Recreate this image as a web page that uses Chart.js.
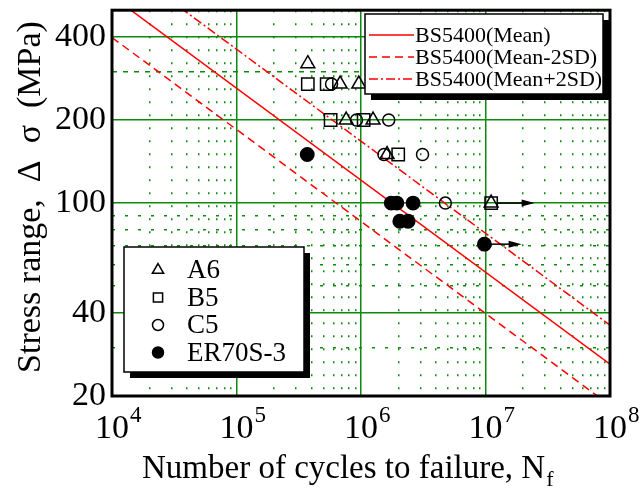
<!DOCTYPE html>
<html>
<head>
<meta charset="utf-8">
<script src="https://cdn.jsdelivr.net/npm/chart.js@4.4.0/dist/chart.umd.min.js"></script>
<style>
html,body{margin:0;padding:0;background:#fff;}
#wrap{width:643px;height:493px;position:relative;}
</style>
</head>
<body>
<div id="wrap"><canvas id="c" width="643" height="493"></canvas></div>
<script>
// ---- data ----
const a6N = [3.74e5, 6.8e5, 9.6e5, 7.6e5, 1.25e6, 1.62e6, 1.11e7];
const a6S = [320, 270, 270, 200, 200, 150, 100];
const b5N = [3.74e5, 5.3e5, 5.7e5, 1.05e6, 1.99e6, 1.11e7];
const b5S = [270, 270, 200, 200, 150, 100];
const c5N = [5.8e5, 9.2e5, 1.67e6, 1.53e6, 3.12e6, 4.76e6];
const c5S = [270, 200, 200, 150, 150, 100];
const erN = [3.7e5, 1.75e6, 1.94e6, 2.62e6, 2.05e6, 2.39e6, 9.8e6];
const erS = [150, 100, 100, 100, 86, 86, 71];
// run-out arrows (start N, arrow tip N, stress)
const runFromN = [1.11e7, 9.8e6];
const runToN = [2.48e7, 1.95e7];
const runS = [100, 71];
// BS5400 curves (end points)
const meanN = [1e4, 1e8];
const meanS = [562, 26.1];
const minusN = [1e4, 1e8];
const minusS = [398, 18.5];
const plusN = [1e4, 1e8];
const plusS = [778, 36.1];
// ticks
const xExponents = [4, 5, 6, 7, 8];
const yTickLabels = [20, 40, 100, 200, 400];
const yMinorTicks = [30, 50, 60, 70, 80, 90, 300];

const seriesNames = ['A6', 'B5', 'C5', 'ER70S-3'];
const lineNames = ['BS5400(Mean)', 'BS5400(Mean-2SD)', 'BS5400(Mean+2SD)'];

const pts = (xs, ys) => xs.map((x, i) => ({x: x, y: ys[i]}));
const SERIF = '"Liberation Serif", "DejaVu Serif", serif';
const GREEN = '#0b8a0b';

const extraPlugin = {
  id: 'extra',
  afterDatasetsDraw(chart) {
    const {ctx, scales: {x, y}} = chart;
    ctx.save();
    ctx.strokeStyle = '#000'; ctx.fillStyle = '#000'; ctx.lineWidth = 1.5;
    for (let i = 0; i < runS.length; i++) {
      const x0 = x.getPixelForValue(runFromN[i]) + 6;
      const x1 = x.getPixelForValue(runToN[i]);
      const yy = y.getPixelForValue(runS[i]);
      ctx.beginPath(); ctx.moveTo(x0, yy); ctx.lineTo(x1 - 10, yy); ctx.stroke();
      ctx.beginPath(); ctx.moveTo(x1, yy); ctx.lineTo(x1 - 13, yy - 3.5); ctx.lineTo(x1 - 13, yy + 3.5); ctx.closePath(); ctx.fill();
    }
    ctx.restore();
  },
  afterDraw(chart) {
    const {ctx, chartArea: ca, scales: {x, y}} = chart;
    ctx.save();
    ctx.strokeStyle = '#000'; ctx.lineWidth = 3;
    ctx.strokeRect(ca.left, ca.top, ca.right - ca.left, ca.bottom - ca.top);
    ctx.fillStyle = '#000';
    ctx.textBaseline = 'alphabetic';
    xExponents.forEach(e => {
      const px = x.getPixelForValue(Math.pow(10, e));
      ctx.font = '34px ' + SERIF;
      ctx.textAlign = 'center';
      ctx.fillText('10', px, 438);
      const w = ctx.measureText('10').width;
      ctx.font = '23px ' + SERIF;
      ctx.textAlign = 'left';
      ctx.fillText(String(e), px + w / 2 + 1, 422);
    });
    ctx.font = '33px ' + SERIF;
    ctx.textAlign = 'left';
    const t = 'Number of cycles to failure, N';
    ctx.fillText(t, 142, 478);
    const tw = ctx.measureText(t).width;
    ctx.font = '22px ' + SERIF;
    ctx.fillText('f', 142 + tw + 1, 486);
    ctx.save();
    ctx.translate(40, 197);
    ctx.rotate(-Math.PI / 2);
    ctx.font = '34px ' + SERIF;
    ctx.textAlign = 'center';
    ctx.textBaseline = 'alphabetic';
    ctx.fillText('Stress range,  Δ  σ  (MPa)', 0, 0);
    ctx.restore();

    const ds = chart.data.datasets;
    const L1 = {x: 365, y: 14, w: 238, h: 80};
    ctx.fillStyle = '#000';
    ctx.fillRect(L1.x + 6, L1.y + 6, L1.w, L1.h);
    ctx.fillStyle = '#fff';
    ctx.fillRect(L1.x, L1.y, L1.w, L1.h);
    ctx.strokeStyle = '#000'; ctx.lineWidth = 1.5;
    ctx.strokeRect(L1.x, L1.y, L1.w, L1.h);
    for (let i = 0; i < 3; i++) {
      const d = ds[4 + i];
      const yy = 35 + i * 22;
      ctx.beginPath();
      ctx.setLineDash(d.borderDash || []);
      ctx.strokeStyle = d.borderColor; ctx.lineWidth = 1.5;
      ctx.moveTo(369, yy); ctx.lineTo(414, yy); ctx.stroke();
      ctx.setLineDash([]);
      ctx.fillStyle = '#000';
      ctx.font = '22px ' + SERIF;
      ctx.textAlign = 'left'; ctx.textBaseline = 'middle';
      ctx.fillText(d.label, 415, yy + 1);
    }
    const L2 = {x: 124, y: 247, w: 180, h: 125};
    ctx.fillStyle = '#000';
    ctx.fillRect(L2.x + 6, L2.y + 6, L2.w, L2.h);
    ctx.fillStyle = '#fff';
    ctx.fillRect(L2.x, L2.y, L2.w, L2.h);
    ctx.strokeStyle = '#000'; ctx.lineWidth = 1.5;
    ctx.strokeRect(L2.x, L2.y, L2.w, L2.h);
    for (let i = 0; i < 4; i++) {
      const d = ds[i];
      const yy = 270 + i * 27.5;
      ctx.lineWidth = 1.5;
      ctx.strokeStyle = '#000';
      ctx.fillStyle = d.backgroundColor;
      const r = d.pointStyle === 'triangle' ? 6.5 : (d.pointStyle === 'rect' ? 6.5 : 5.5);
      Chart.helpers.drawPoint(ctx, {pointStyle: d.pointStyle, radius: r, borderWidth: 1.5, rotation: 0}, 158, yy);
      ctx.fillStyle = '#000';
      ctx.font = '27px ' + SERIF;
      ctx.textAlign = 'left'; ctx.textBaseline = 'middle';
      ctx.fillText(d.label, 187, yy + 1);
    }
    ctx.restore();
  }
};

const mk = (label, xs, ys, style, r, fill) => ({
  type: 'scatter', label: label, data: pts(xs, ys),
  pointStyle: style, pointRadius: r, pointHoverRadius: r,
  pointBorderWidth: 1.5, borderColor: '#000', backgroundColor: fill,
  pointBackgroundColor: fill, pointBorderColor: '#000', showLine: false, clip: false
});
const ln = (label, xs, ys, dash) => ({
  type: 'line', label: label, data: pts(xs, ys), borderColor: '#ff0000',
  borderWidth: 1.5, borderDash: dash, pointRadius: 0, fill: false, clip: 0, order: 10
});

new Chart(document.getElementById('c'), {
  data: {
    datasets: [
      mk(seriesNames[0], a6N, a6S, 'triangle', 8, 'rgba(0,0,0,0)'),
      mk(seriesNames[1], b5N, b5S, 'rect', 8.7, 'rgba(0,0,0,0)'),
      mk(seriesNames[2], c5N, c5S, 'circle', 6, 'rgba(0,0,0,0)'),
      mk(seriesNames[3], erN, erS, 'circle', 6.7, '#000'),
      ln(lineNames[0], meanN, meanS, []),
      ln(lineNames[1], minusN, minusS, [8, 5]),
      ln(lineNames[2], plusN, plusS, [9, 3, 2, 3])
    ]
  },
  options: {
    responsive: false, animation: false,
    layout: {padding: {left: 0, right: 33, top: 10, bottom: 0}},
    plugins: {legend: {display: false}, tooltip: {enabled: false}},
    scales: {
      x: {
        type: 'logarithmic', min: 1e4, max: 1e8,
        afterFit: s => { s.height = 97; s.paddingLeft = 0; s.paddingRight = 0; },
        afterBuildTicks: s => {
          const t = [];
          for (let e = 4; e < 8; e++) for (let m = 1; m < 10; m++) t.push({value: m * Math.pow(10, e)});
          t.push({value: 1e8});
          s.ticks = t;
        },
        ticks: {display: false, autoSkip: false},
        grid: {drawTicks: false, color: GREEN, lineWidth: 1.5},
        border: {
          display: false,
          dash: c => {
            const v = c.tick ? c.tick.value : 0;
            const lg = Math.log10(v);
            return Math.abs(lg - Math.round(lg)) < 1e-6 ? [] : [2, 11];
          }
        }
      },
      y: {
        type: 'logarithmic', min: 20, max: 500,
        afterFit: s => { s.width = 112; s.paddingTop = 0; s.paddingBottom = 0; },
        afterBuildTicks: s => {
          const all = yTickLabels.concat(yMinorTicks).concat([500]).sort((a, b) => a - b);
          s.ticks = all.map(v => ({value: v}));
        },
        ticks: {
          autoSkip: false, padding: 6, color: '#000',
          font: {family: SERIF, size: 34},
          callback: v => yTickLabels.includes(v) ? String(v) : ''
        },
        grid: {drawTicks: false, color: GREEN, lineWidth: 1.5},
        border: {
          display: false,
          dash: c => {
            const v = c.tick ? c.tick.value : 0;
            if (yTickLabels.includes(v) || v === 500) return [];
            if (v === 300) return [5, 6];
            return [3, 10];
          }
        }
      }
    }
  },
  plugins: [extraPlugin]
});
</script>
</body>
</html>
